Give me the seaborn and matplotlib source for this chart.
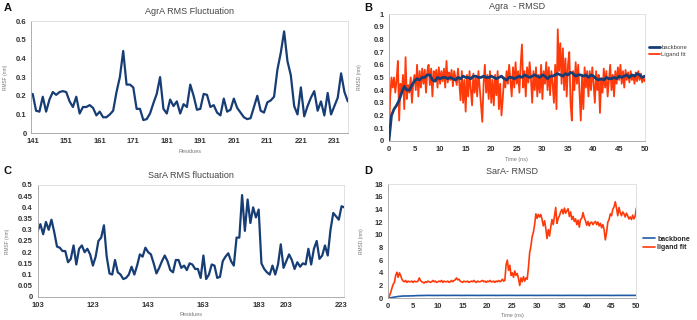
import numpy as np
import pandas as pd
import matplotlib
matplotlib.use("Agg")
import matplotlib.pyplot as plt
import seaborn as sns

# =========================
# Data
# =========================
agra_res_start = 141
agra_rmsf = [0.21, 0.12, 0.115, 0.195, 0.115, 0.18, 0.22, 0.205, 0.22, 0.225,
             0.22, 0.17, 0.14, 0.195, 0.105, 0.14, 0.14, 0.15, 0.135, 0.095,
             0.115, 0.085, 0.085, 0.10, 0.12, 0.22, 0.30, 0.44, 0.26, 0.26,
             0.245, 0.13, 0.13, 0.07, 0.075, 0.105, 0.16, 0.21, 0.30, 0.13,
             0.105, 0.18, 0.145, 0.17, 0.105, 0.155, 0.14, 0.26, 0.20, 0.125,
             0.13, 0.21, 0.205, 0.14, 0.15, 0.11, 0.095, 0.185, 0.115, 0.125,
             0.185, 0.135, 0.11, 0.085, 0.075, 0.08, 0.14, 0.20, 0.12, 0.11,
             0.165, 0.175, 0.195, 0.34, 0.43, 0.545, 0.385, 0.31, 0.145, 0.10,
             0.245, 0.09, 0.145, 0.19, 0.225, 0.12, 0.17, 0.095, 0.215, 0.10,
             0.145, 0.19, 0.32, 0.22, 0.17]
agra_ticks = [141, 151, 161, 171, 181, 191, 201, 211, 221, 231]

sara_rmsf = [0.295, 0.325, 0.28, 0.335, 0.30, 0.345, 0.29, 0.225, 0.22, 0.205,
             0.205, 0.155, 0.17, 0.23, 0.145, 0.215, 0.23, 0.20, 0.215, 0.19,
             0.14, 0.18, 0.25, 0.265, 0.32, 0.18, 0.105, 0.10, 0.165, 0.11,
             0.10, 0.08, 0.085, 0.10, 0.135, 0.10, 0.14, 0.19, 0.18, 0.22,
             0.20, 0.19, 0.15, 0.105, 0.13, 0.16, 0.185, 0.16, 0.12, 0.11,
             0.165, 0.165, 0.13, 0.14, 0.12, 0.15, 0.145, 0.125, 0.125, 0.085,
             0.185, 0.08, 0.10, 0.145, 0.14, 0.085, 0.09, 0.16, 0.18, 0.195,
             0.16, 0.14, 0.265, 0.265, 0.455, 0.295, 0.435, 0.33, 0.40, 0.355,
             0.39, 0.15, 0.125, 0.11, 0.10, 0.14, 0.10, 0.145, 0.235, 0.13,
             0.16, 0.19, 0.165, 0.125, 0.155, 0.135, 0.15, 0.145, 0.215, 0.145,
             0.215, 0.25, 0.17, 0.185, 0.23, 0.185, 0.30, 0.375, 0.36, 0.345,
             0.405, 0.40]
sara_tick_pos = [0, 20, 40, 60, 80, 90, 110]
sara_tick_labels = ["103", "123", "143", "163", "183", "203", "223"]

# Agra RMSD, ligand every 0.25 ns, backbone every 0.5 ns
agra_ligand = [0.0, 0.35, 0.5, 0.42, 0.5, 0.38, 0.48, 0.63, 0.16, 0.45, 0.38, 0.52,
               0.25, 0.66, 0.33, 0.44, 0.38, 0.5, 0.30, 0.46, 0.52, 0.40, 0.60, 0.35,
               0.55, 0.42, 0.57, 0.45, 0.56, 0.38, 0.55, 0.60, 0.44, 0.57, 0.35, 0.55,
               0.48, 0.56, 0.42, 0.58, 0.45, 0.55, 0.47, 0.57, 0.42, 0.63, 0.46, 0.54,
               0.48, 0.56, 0.43, 0.55, 0.50, 0.44, 0.57, 0.46, 0.32, 0.55, 0.30, 0.48,
               0.23, 0.52, 0.35, 0.55, 0.40, 0.28, 0.53, 0.38, 0.50, 0.35, 0.55, 0.42,
               0.30, 0.15, 0.45, 0.60, 0.38, 0.52, 0.33, 0.55, 0.30, 0.48, 0.28, 0.52,
               0.36, 0.55, 0.25, 0.45, 0.20, 0.33, 0.50, 0.42, 0.55, 0.45, 0.60, 0.48,
               0.35, 0.58, 0.42, 0.62, 0.45, 0.55, 0.38, 0.60, 0.76, 0.42, 0.55, 0.35,
               0.58, 0.46, 0.62, 0.50, 0.30, 0.55, 0.40, 0.58, 0.35, 0.52, 0.38, 0.60,
               0.33, 0.55, 0.45, 0.62, 0.40, 0.58, 0.36, 0.55, 0.45, 0.30, 0.60, 0.25,
               0.88, 0.55, 0.77, 0.45, 0.73, 0.40, 0.65, 0.35, 0.60, 0.70, 0.30, 0.16,
               0.55, 0.40, 0.62, 0.45, 0.60, 0.38, 0.16, 0.52, 0.25, 0.58, 0.42, 0.55,
               0.35, 0.55, 0.40, 0.58, 0.45, 0.30, 0.55, 0.40, 0.52, 0.22, 0.48, 0.38,
               0.57, 0.42, 0.55, 0.35, 0.48, 0.60, 0.40, 0.52, 0.35, 0.55, 0.45, 0.58,
               0.48, 0.60, 0.45, 0.55, 0.42, 0.56, 0.48, 0.54, 0.46, 0.55, 0.48, 0.52,
               0.45, 0.54, 0.47, 0.55, 0.48, 0.53, 0.46, 0.50, 0.47]
agra_backbone = [0.0, 0.2, 0.25, 0.28, 0.32, 0.38, 0.43, 0.40, 0.40, 0.44,
                 0.47, 0.49, 0.48, 0.50, 0.50, 0.52, 0.52, 0.48, 0.47, 0.50,
                 0.49, 0.50, 0.50, 0.49, 0.50, 0.49, 0.48, 0.50, 0.49, 0.51,
                 0.50, 0.50, 0.49, 0.51, 0.51, 0.50, 0.50, 0.51, 0.50, 0.50,
                 0.51, 0.50, 0.49, 0.50, 0.51, 0.49, 0.48, 0.50, 0.50, 0.49,
                 0.50, 0.51, 0.50, 0.52, 0.51, 0.50, 0.51, 0.52, 0.51, 0.50,
                 0.52, 0.51, 0.49, 0.51, 0.51, 0.52, 0.53, 0.52, 0.51, 0.53,
                 0.52, 0.54, 0.53, 0.51, 0.52, 0.52, 0.51, 0.52, 0.50, 0.52,
                 0.51, 0.49, 0.48, 0.49, 0.48, 0.50, 0.49, 0.49, 0.50, 0.49,
                 0.51, 0.50, 0.51, 0.52, 0.50, 0.52, 0.51, 0.53, 0.52, 0.50,
                 0.51]

# SarA RMSD, ligand every 0.25 ns, backbone every 1 ns
sara_ligand = [0.0, 0.4, 0.9, 1.6, 2.2, 2.5, 3.6, 4.1, 3.3, 4.0, 3.6, 3.0,
               2.7, 2.6, 2.8, 2.5, 2.7, 2.6, 2.6, 2.7, 2.5, 2.7, 2.6, 2.6,
               2.7, 3.2, 2.8, 2.6, 2.5, 2.4, 2.6, 2.5, 2.7, 2.6, 2.5, 2.6,
               2.8, 2.6, 2.7, 2.5, 2.6, 2.7, 2.6, 2.8, 2.5, 2.7, 2.6, 2.6,
               2.7, 2.5, 2.6, 2.8, 2.6, 2.8, 2.9, 3.2, 2.9, 3.0, 2.7, 2.6,
               2.5, 2.7, 2.6, 2.6, 2.7, 2.5, 2.6, 2.7, 2.6, 2.8, 2.6, 2.5,
               2.7, 2.6, 2.6, 2.7, 2.8, 2.6, 2.7, 2.5, 2.7, 2.6, 2.8, 2.6,
               2.6, 2.7, 2.5, 2.7, 2.6, 2.8, 2.6, 2.7, 3.0, 2.7, 2.8, 5.3,
               6.0, 4.4, 5.2, 3.6, 4.0, 3.3, 4.3, 3.6, 3.9, 3.1, 2.0, 3.2,
               2.6, 3.4, 2.7, 3.2, 3.0, 4.8, 7.2, 8.2, 9.7, 10.4, 11.6, 13.3,
               12.6, 13.2, 12.8, 13.2, 12.4, 11.4, 12.2, 11.0, 9.4, 10.8, 9.8, 11.2,
               12.4, 11.6, 13.0, 14.3, 11.8, 12.6, 13.0, 13.6, 14.0, 13.3, 14.2, 13.4,
               13.8, 14.1, 12.9, 13.6, 12.4, 12.9, 12.1, 12.5, 11.6, 12.3, 11.2, 12.4,
               12.6, 13.5, 12.7, 12.2, 11.5, 12.1, 11.4, 11.9, 12.0, 11.6, 11.9, 12.1,
               11.6, 12.0, 11.4, 11.8, 11.1, 11.6, 10.8, 9.2, 10.4, 12.0, 12.4, 13.3,
               13.0, 14.0, 14.4, 15.2, 14.2, 13.0, 14.3, 13.5, 13.0, 13.6, 13.3, 12.8,
               13.4, 13.0, 12.5, 12.8, 12.4, 13.1, 12.5, 12.9, 14.2]
sara_backbone = [0.0, 0.15, 0.28, 0.35, 0.36, 0.38, 0.42, 0.43, 0.45, 0.44,
                 0.44, 0.45, 0.44, 0.45, 0.45, 0.44, 0.45, 0.45, 0.44, 0.45,
                 0.45, 0.45, 0.44, 0.45, 0.45, 0.45, 0.44, 0.45, 0.45, 0.45,
                 0.44, 0.45, 0.45, 0.45, 0.45, 0.44, 0.45, 0.45, 0.45, 0.45,
                 0.44, 0.45, 0.45, 0.45, 0.45, 0.44, 0.45, 0.45, 0.45, 0.45,
                 0.45]

NAVY = "#173D75"
RED = "#FF3A0A"
TICK_KW = dict(labelsize=5.5, colors="#333333", length=2, width=0.5, pad=1.5)


def style_axes(ax):
    for side in ["top", "right"]:
        ax.spines[side].set_color("#dcdcdc")
        ax.spines[side].set_linewidth(0.6)
    for side in ["left", "bottom"]:
        ax.spines[side].set_color("#a0a0a0")
        ax.spines[side].set_linewidth(0.6)
    ax.tick_params(**TICK_KW)
    for lab in ax.get_xticklabels() + ax.get_yticklabels():
        lab.set_fontweight("bold")


sns.set_style("white")
plt.rcParams["font.family"] = ["Liberation Sans", "DejaVu Sans"]

fig = plt.figure(figsize=(6.97, 3.2), dpi=100)
axA = fig.add_axes([0.045, 0.584, 0.454, 0.350])
axB = fig.add_axes([0.558, 0.560, 0.367, 0.396])
axC = fig.add_axes([0.054, 0.072, 0.440, 0.350])
axD = fig.add_axes([0.557, 0.068, 0.356, 0.357])

# ---- A: AgrA RMSF
dfA = pd.DataFrame({"res": np.arange(agra_res_start, agra_res_start + len(agra_rmsf)),
                    "rmsf": agra_rmsf})
sns.lineplot(data=dfA, x="res", y="rmsf", ax=axA, color=NAVY, linewidth=1.6)
axA.set_xlim(140.6, dfA["res"].iloc[-1])
axA.set_ylim(0, 0.6)
axA.set_xticks(agra_ticks)
axA.set_yticks(np.arange(0, 0.61, 0.1))
axA.set_yticklabels(["0", "0.1", "0.2", "0.3", "0.4", "0.5", "0.6"])
axA.set_xlabel("Residues", fontsize=4, color="#777777", labelpad=3)
axA.set_ylabel("RMSF (nm)", fontsize=3.5, color="#777777", labelpad=6)
axA.set_title("AgrA RMS Fluctuation", fontsize=6.5, color="#444444", pad=5)
style_axes(axA)

# ---- B: Agra RMSD
dfB_lig = pd.DataFrame({"t": np.arange(len(agra_ligand)) * 0.25, "v": agra_ligand})
dfB_bb = pd.DataFrame({"t": np.arange(len(agra_backbone)) * 0.5, "v": agra_backbone})
sns.lineplot(data=dfB_lig, x="t", y="v", ax=axB, color=RED, linewidth=1.3,
             label="Ligand fit", zorder=2)
sns.lineplot(data=dfB_bb, x="t", y="v", ax=axB, color=NAVY, linewidth=2.0,
             label="backbone", zorder=3)
axB.set_xlim(0, 50)
axB.set_ylim(0, 1)
axB.set_xticks(np.arange(0, 51, 5))
axB.set_yticks(np.arange(0, 1.01, 0.1))
axB.set_yticklabels(["0", "0.1", "0.2", "0.3", "0.4", "0.5", "0.6", "0.7", "0.8", "0.9", "1"])
axB.set_xlabel("Time (ns)", fontsize=4, color="#777777", labelpad=3)
axB.set_ylabel("RMSD (nm)", fontsize=3.5, color="#777777", labelpad=8)
axB.set_title("Agra  - RMSD", fontsize=6.5, color="#444444", pad=4)
h, l = axB.get_legend_handles_labels()
axB.legend(h[::-1], l[::-1], loc="center left", bbox_to_anchor=(1.0, 0.71),
           frameon=False, fontsize=4.3, handlelength=1.8, handletextpad=0.3,
           labelspacing=0.3, labelcolor="#444444", borderaxespad=0.3)
style_axes(axB)

# ---- C: SarA RMSF
dfC = pd.DataFrame({"pos": np.arange(len(sara_rmsf)), "rmsf": sara_rmsf})
sns.lineplot(data=dfC, x="pos", y="rmsf", ax=axC, color=NAVY, linewidth=1.6)
axC.set_xlim(0, len(sara_rmsf) - 1)
axC.set_ylim(0, 0.5)
axC.set_xticks(sara_tick_pos)
axC.set_xticklabels(sara_tick_labels)
axC.set_yticks(np.arange(0, 0.501, 0.05))
axC.set_yticklabels(["0", "0.05", "0.1", "0.15", "0.2", "0.25", "0.3", "0.35", "0.4", "0.45", "0.5"])
axC.set_xlabel("Residues", fontsize=4, color="#777777", labelpad=2)
axC.set_ylabel("RMSF (nm)", fontsize=3.5, color="#777777", labelpad=6)
axC.set_title("SarA RMS fluctuation", fontsize=6.5, color="#444444", pad=5)
style_axes(axC)

# ---- D: SarA RMSD
dfD_lig = pd.DataFrame({"t": np.arange(len(sara_ligand)) * 0.25, "v": sara_ligand})
dfD_bb = pd.DataFrame({"t": np.arange(len(sara_backbone)) * 1.0, "v": sara_backbone})
sns.lineplot(data=dfD_bb, x="t", y="v", ax=axD, color="#1F5AA6", linewidth=1.2,
             label="backbone")
sns.lineplot(data=dfD_lig, x="t", y="v", ax=axD, color=RED, linewidth=1.2,
             label="ligand fit")
axD.set_xlim(0, 50)
axD.set_ylim(0, 18)
axD.set_xticks(np.arange(0, 51, 5))
axD.set_yticks(np.arange(0, 19, 2))
axD.set_xlabel("Time (ns)", fontsize=4, color="#777777", labelpad=2)
axD.set_ylabel("RMSD (nm)", fontsize=3.5, color="#777777", labelpad=8)
axD.set_title("SarA- RMSD", fontsize=6.5, color="#444444", pad=7)
leg = axD.legend(loc="center left", bbox_to_anchor=(1.0, 0.48), frameon=False,
                 fontsize=5, handlelength=1.8, handletextpad=0.3, labelspacing=0.2,
                 borderaxespad=0.5)
for t in leg.get_texts():
    t.set_fontweight("bold")
style_axes(axD)

# panel letters
for x, y, s in [(0.005, 0.965, "A"), (0.523, 0.965, "B"), (0.005, 0.455, "C"), (0.523, 0.455, "D")]:
    fig.text(x, y, s, fontsize=8, fontweight="bold", color="#111111")

fig.savefig("out.png", dpi=100)
plt.close(fig)
